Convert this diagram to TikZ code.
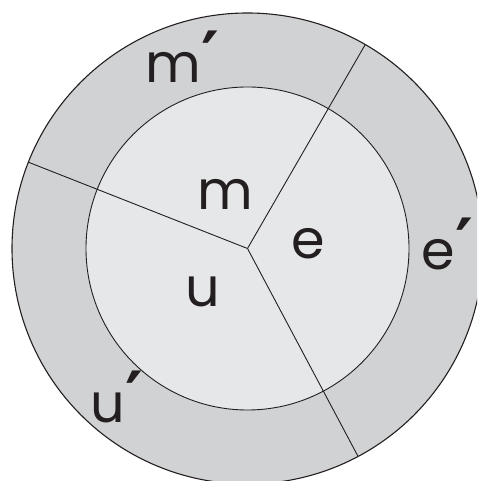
\documentclass[tikz,border=0pt]{standalone}
\usepackage{fontspec}
\usetikzlibrary{calc}
\setmainfont{Poppins}
\newfontfamily\primefont{DejaVu Sans Bold}
\newcommand{\pr}{\kern1pt\raisebox{2pt}{\primefont\fontsize{68}{68}\selectfont ′}}
\definecolor{ringgray}{HTML}{D1D2D4}
\definecolor{coregray}{HTML}{E6E7E8}
\definecolor{inkc}{HTML}{231F20}
\tikzset{
  lbl/.style={anchor=base, text=inkc, inner sep=0pt, font=\fontsize{54}{54}\selectfont},
  edge/.style={draw=inkc, line width=0.9pt}
}
\begin{document}
\begin{tikzpicture}[x=1pt,y=1pt]
\useasboundingbox (0,0) rectangle (477,481);
\clip (0,0) rectangle (477,481);
\coordinate (c) at (247.5,232.5);
\fill[ringgray] (c) circle (235.5);
\draw[edge, line width=1.1pt] (c) circle (235.5);
\fill[coregray] (c) circle (161.5);
\draw[edge] (c) circle (161.5);
\coordinate (pe) at ($(c)+(60:235.5)$);
\coordinate (pm) at ($(c)+(158.5:235.5)$);
\coordinate (pu) at ($(c)+(-62:235.5)$);
\draw[edge] (c) -- (pe);
\draw[edge] (c) -- (pm);
\draw[edge] (c) -- (pu);
\node[lbl] (m) at (225,271) {m};
\node[lbl] (e) at (308,222) {e};
\node[lbl] (u) at (203,174) {u};
\node[lbl, anchor=base west] (mp) at (145,398) {m\pr};
\node[lbl, anchor=base west] (ep) at (421,211) {e\pr};
\node[lbl, anchor=base west] (up) at (90,58) {u\pr};
\end{tikzpicture}
\end{document}
